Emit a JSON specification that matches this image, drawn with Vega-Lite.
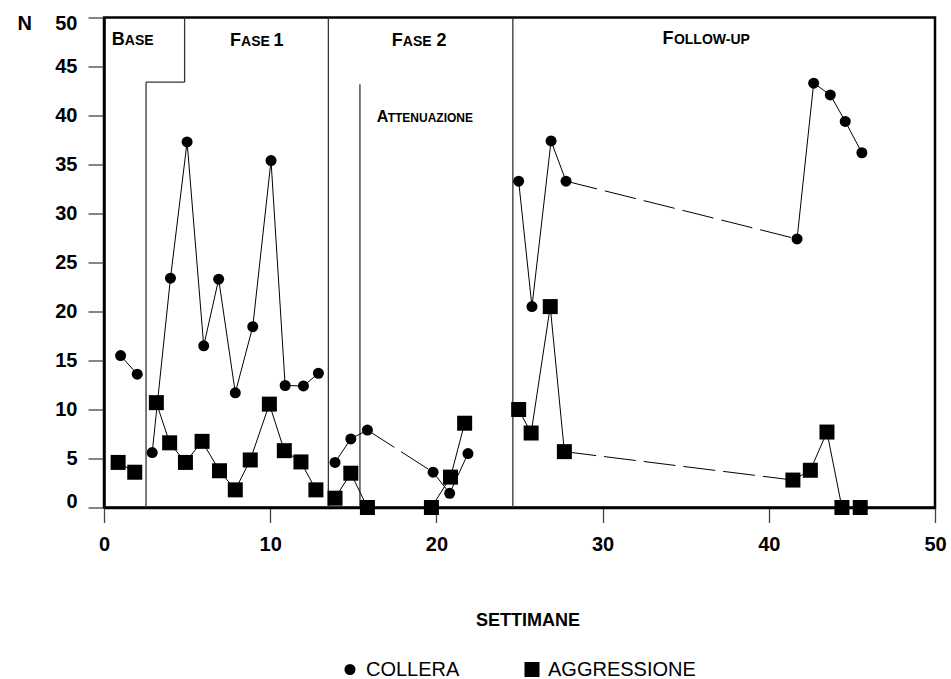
{
  "$schema": "https://vega.github.io/schema/vega-lite/v6.json",
  "autosize": {"type": "none"},
  "padding": {"left": 104, "top": 17.5, "right": 16, "bottom": 171.5},
  "width": 831,
  "height": 490,
  "background": "white",
  "config": {
    "view": {"stroke": "black", "strokeWidth": 2.5},
    "font": "Liberation Sans"
  },
  "datasets": {
    "points": [
      {"series": "COLLERA", "run": "c1", "week": 1.0, "n": 15.5},
      {"series": "COLLERA", "run": "c1", "week": 2.0, "n": 13.6},
      {"series": "COLLERA", "run": "c2", "week": 2.9, "n": 5.6},
      {"series": "COLLERA", "run": "c2", "week": 4.0, "n": 23.4},
      {"series": "COLLERA", "run": "c2", "week": 5.0, "n": 37.3},
      {"series": "COLLERA", "run": "c2", "week": 6.0, "n": 16.5},
      {"series": "COLLERA", "run": "c2", "week": 6.9, "n": 23.3},
      {"series": "COLLERA", "run": "c2", "week": 7.9, "n": 11.7},
      {"series": "COLLERA", "run": "c2", "week": 8.95, "n": 18.45},
      {"series": "COLLERA", "run": "c2", "week": 10.05, "n": 35.4},
      {"series": "COLLERA", "run": "c2", "week": 10.9, "n": 12.45},
      {"series": "COLLERA", "run": "c2", "week": 12.0, "n": 12.4},
      {"series": "COLLERA", "run": "c2", "week": 12.9, "n": 13.7},
      {"series": "COLLERA", "run": "c3", "week": 13.9, "n": 4.6},
      {"series": "COLLERA", "run": "c3", "week": 14.85, "n": 7.0},
      {"series": "COLLERA", "run": "c3", "week": 15.85, "n": 7.9},
      {"series": "COLLERA", "run": "c4", "week": 19.8, "n": 3.6},
      {"series": "COLLERA", "run": "c4", "week": 20.8, "n": 1.45},
      {"series": "COLLERA", "run": "c4", "week": 21.9, "n": 5.5},
      {"series": "COLLERA", "run": "c5", "week": 24.95, "n": 33.3},
      {"series": "COLLERA", "run": "c5", "week": 25.75, "n": 20.5},
      {"series": "COLLERA", "run": "c5", "week": 26.9, "n": 37.4},
      {"series": "COLLERA", "run": "c5", "week": 27.8, "n": 33.3},
      {"series": "COLLERA", "run": "c6", "week": 41.7, "n": 27.4},
      {"series": "COLLERA", "run": "c6", "week": 42.7, "n": 43.3},
      {"series": "COLLERA", "run": "c6", "week": 43.7, "n": 42.1},
      {"series": "COLLERA", "run": "c6", "week": 44.6, "n": 39.4},
      {"series": "COLLERA", "run": "c6", "week": 45.6, "n": 36.2},
      {"series": "AGGRESSIONE", "run": "a1", "week": 0.85, "n": 4.6},
      {"series": "AGGRESSIONE", "run": "a1", "week": 1.85, "n": 3.6},
      {"series": "AGGRESSIONE", "run": "a2", "week": 3.15, "n": 10.7},
      {"series": "AGGRESSIONE", "run": "a2", "week": 3.95, "n": 6.6},
      {"series": "AGGRESSIONE", "run": "a2", "week": 4.9, "n": 4.6},
      {"series": "AGGRESSIONE", "run": "a2", "week": 5.9, "n": 6.75},
      {"series": "AGGRESSIONE", "run": "a2", "week": 6.95, "n": 3.75},
      {"series": "AGGRESSIONE", "run": "a2", "week": 7.9, "n": 1.8},
      {"series": "AGGRESSIONE", "run": "a2", "week": 8.8, "n": 4.85},
      {"series": "AGGRESSIONE", "run": "a2", "week": 9.95, "n": 10.55},
      {"series": "AGGRESSIONE", "run": "a2", "week": 10.85, "n": 5.8},
      {"series": "AGGRESSIONE", "run": "a2", "week": 11.85, "n": 4.65},
      {"series": "AGGRESSIONE", "run": "a2", "week": 12.75, "n": 1.8},
      {"series": "AGGRESSIONE", "run": "a3", "week": 13.9, "n": 0.95},
      {"series": "AGGRESSIONE", "run": "a3", "week": 14.85, "n": 3.5},
      {"series": "AGGRESSIONE", "run": "a3", "week": 15.85, "n": 0},
      {"series": "AGGRESSIONE", "run": "a4", "week": 19.7, "n": 0},
      {"series": "AGGRESSIONE", "run": "a4", "week": 20.85, "n": 3.1},
      {"series": "AGGRESSIONE", "run": "a4", "week": 21.7, "n": 8.6},
      {"series": "AGGRESSIONE", "run": "a5", "week": 24.95, "n": 10.0},
      {"series": "AGGRESSIONE", "run": "a5", "week": 25.7, "n": 7.6},
      {"series": "AGGRESSIONE", "run": "a5", "week": 26.85, "n": 20.5},
      {"series": "AGGRESSIONE", "run": "a5", "week": 27.7, "n": 5.7},
      {"series": "AGGRESSIONE", "run": "a6", "week": 41.45, "n": 2.8},
      {"series": "AGGRESSIONE", "run": "a6", "week": 42.5, "n": 3.8},
      {"series": "AGGRESSIONE", "run": "a6", "week": 43.5, "n": 7.7},
      {"series": "AGGRESSIONE", "run": "a6", "week": 44.4, "n": 0},
      {"series": "AGGRESSIONE", "run": "a6", "week": 45.5, "n": 0}
    ],
    "dashes": [
      {"week": 15.85, "n": 7.9, "week2": 19.8, "n2": 3.6},
      {"week": 27.8, "n": 33.3, "week2": 41.7, "n2": 27.4},
      {"week": 27.7, "n": 5.7, "week2": 41.45, "n2": 2.8}
    ],
    "dividers": [
      {"week": 2.53, "n": 0, "week2": 2.53, "n2": 43.4},
      {"week": 2.53, "n": 43.4, "week2": 4.85, "n2": 43.4},
      {"week": 4.85, "n": 43.4, "week2": 4.85, "n2": 50},
      {"week": 13.5, "n": 0, "week2": 13.5, "n2": 50},
      {"week": 15.4, "n": 0, "week2": 15.4, "n2": 43.2},
      {"week": 24.6, "n": 0, "week2": 24.6, "n2": 50}
    ],
    "capsBig": [
      {"t": "B", "week": 0.46, "n": 47.2},
      {"t": "F", "week": 7.58, "n": 47.1},
      {"t": "1", "week": 10.2, "n": 47.1},
      {"t": "F", "week": 17.31, "n": 47.1},
      {"t": "2", "week": 20.0, "n": 47.1},
      {"t": "F", "week": 33.61, "n": 47.3}
    ],
    "capsSmall": [
      {"t": "ASE", "week": 1.25, "n": 47.2},
      {"t": "ASE", "week": 8.25, "n": 47.1},
      {"t": "ASE", "week": 17.98, "n": 47.1},
      {"t": "OLLOW-UP", "week": 34.29, "n": 47.3}
    ],
    "attBig": [
      {"t": "A", "week": 16.41, "n": 39.37}
    ],
    "attSmall": [
      {"t": "TTENUAZIONE", "week": 17.07, "n": 39.37}
    ]
  },
  "encoding": {
    "x": {
      "field": "week",
      "type": "quantitative",
      "scale": {"domain": [0, 50], "nice": false, "zero": false},
      "axis": {
        "values": [0, 10, 20, 30, 40, 50],
        "grid": false,
        "domainColor": "black",
        "domainWidth": 2.5,
        "tickColor": "#444444",
        "tickWidth": 1.3,
        "tickSize": 15,
        "labelFont": "Liberation Sans",
        "labelFontSize": 20,
        "labelFontWeight": "bold",
        "labelColor": "black",
        "labelPadding": 12,
        "labelFlush": false,
        "title": "SETTIMANE",
        "titleFont": "Liberation Sans",
        "titleFontSize": 18,
        "titleFontWeight": "bold",
        "titleColor": "black",
        "titleX": 423.5,
        "titleY": 118,
        "titleAlign": "center",
        "titleBaseline": "alphabetic"
      }
    },
    "y": {
      "field": "n",
      "type": "quantitative",
      "scale": {"domain": [0, 50], "nice": false, "zero": false},
      "axis": {
        "values": [0, 5, 10, 15, 20, 25, 30, 35, 40, 45, 50],
        "grid": false,
        "domainColor": "black",
        "domainWidth": 2.5,
        "tickColor": "#444444",
        "tickWidth": 1.3,
        "tickSize": 16,
        "labelFont": "Liberation Sans",
        "labelFontSize": 20,
        "labelFontWeight": "bold",
        "labelColor": "black",
        "labelPadding": 11,
        "labelFlush": true,
        "labelFlushOffset": 4,
        "title": "N",
        "titleFont": "Liberation Sans",
        "titleFontSize": 20,
        "titleFontWeight": "bold",
        "titleColor": "black",
        "titleAngle": 0,
        "titleX": -87,
        "titleY": 12,
        "titleAlign": "left",
        "titleBaseline": "alphabetic"
      }
    }
  },
  "layer": [
    {
      "data": {"name": "dividers"},
      "mark": {"type": "rule", "color": "#333333", "strokeWidth": 1.3},
      "encoding": {
        "x2": {"field": "week2"},
        "y2": {"field": "n2"}
      }
    },
    {
      "data": {"name": "points"},
      "mark": {"type": "line", "color": "black", "strokeWidth": 1},
      "encoding": {
        "detail": {"field": "run", "type": "nominal"},
        "order": {"field": "week", "type": "quantitative"}
      }
    },
    {
      "data": {"name": "dashes"},
      "mark": {"type": "rule", "color": "black", "strokeWidth": 1, "strokeDash": [32, 8]},
      "encoding": {
        "x2": {"field": "week2"},
        "y2": {"field": "n2"}
      }
    },
    {
      "data": {"name": "points"},
      "mark": {"type": "point", "filled": true, "color": "black", "opacity": 1},
      "encoding": {
        "shape": {
          "field": "series",
          "type": "nominal",
          "scale": {"domain": ["COLLERA", "AGGRESSIONE"], "range": ["circle", "square"]},
          "legend": {
            "orient": "none",
            "legendX": 236,
            "legendY": 642,
            "direction": "horizontal",
            "title": null,
            "padding": 0,
            "labelFont": "Liberation Sans",
            "labelFontSize": 20,
            "labelColor": "black",
            "labelOffset": 6,
            "columnPadding": 62,
            "symbolFillColor": "black",
            "symbolStrokeWidth": 0
          }
        },
        "size": {
          "field": "series",
          "type": "nominal",
          "scale": {"domain": ["COLLERA", "AGGRESSIONE"], "range": [121, 225]},
          "legend": {
            "orient": "none",
            "legendX": 236,
            "legendY": 642,
            "direction": "horizontal",
            "title": null,
            "padding": 0,
            "labelFont": "Liberation Sans",
            "labelFontSize": 20,
            "labelColor": "black",
            "labelOffset": 6,
            "columnPadding": 62,
            "symbolFillColor": "black",
            "symbolStrokeWidth": 0
          }
        }
      }
    },
    {
      "data": {"name": "capsBig"},
      "mark": {"type": "text", "align": "left", "baseline": "alphabetic", "font": "Liberation Sans", "fontSize": 18, "fontWeight": "bold", "color": "black"},
      "encoding": {"text": {"field": "t"}}
    },
    {
      "data": {"name": "capsSmall"},
      "mark": {"type": "text", "align": "left", "baseline": "alphabetic", "font": "Liberation Sans", "fontSize": 14, "fontWeight": "bold", "color": "black"},
      "encoding": {"text": {"field": "t"}}
    },
    {
      "data": {"name": "attBig"},
      "mark": {"type": "text", "align": "left", "baseline": "alphabetic", "font": "Liberation Sans", "fontSize": 16, "fontWeight": "bold", "color": "black"},
      "encoding": {"text": {"field": "t"}}
    },
    {
      "data": {"name": "attSmall"},
      "mark": {"type": "text", "align": "left", "baseline": "alphabetic", "font": "Liberation Sans", "fontSize": 12, "fontWeight": "bold", "color": "black"},
      "encoding": {"text": {"field": "t"}}
    }
  ]
}
